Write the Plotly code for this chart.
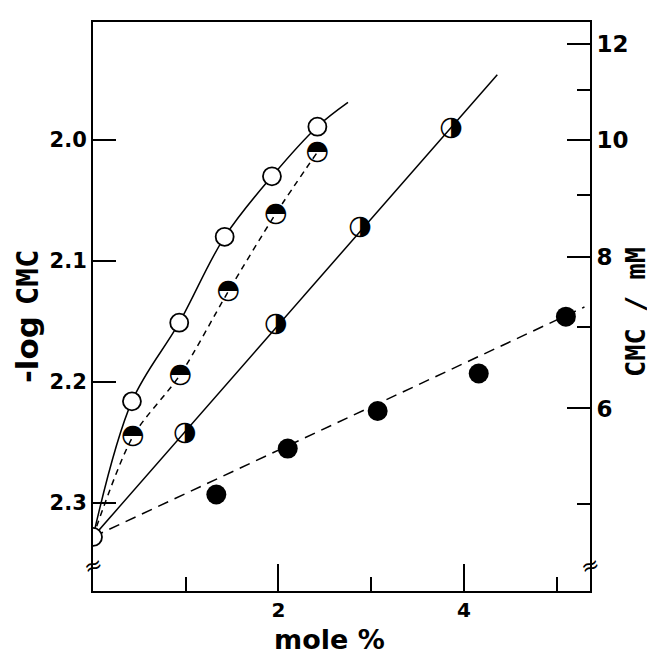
import plotly.graph_objects as go
import math

# ---- data ----
X0, Y0 = 0.0, 2.328          # common intercept (pure surfactant)

# open circles, solid curve
A_X = [0.42, 0.93, 1.42, 1.93, 2.42]
A_Y = [2.216, 2.151, 2.080, 2.030, 1.989]
A_END = (2.75, 1.969)

# upper-half-filled circles, short-dashed curve
B_X = [0.43, 0.94, 1.46, 1.97, 2.42]
B_Y = [2.245, 2.194, 2.125, 2.061, 2.010]

# right-half-filled circles, solid line
C_X = [0.99, 1.97, 2.88, 3.86]
C_Y = [2.242, 2.152, 2.072, 1.990]
C_END = (4.36, 1.946)

# filled circles, long-dashed line
D_X = [1.33, 2.10, 3.07, 4.16, 5.10]
D_Y = [2.293, 2.255, 2.224, 2.193, 2.146]
D_END = (5.30, 2.138)

X_MAJOR = [2, 4]
X_MINOR = [1, 3, 5]
Y_TICKS = [2.0, 2.1, 2.2, 2.3]
Y_TICKTEXT = ["2.0", "2.1", "2.2", "2.3"]
CMC_MAJOR = [6, 8, 10, 12]       # mM
CMC_MINOR = [5, 7, 9, 11]
BREAK_Y = 2.352

X_RANGE = [0, 5.36]
Y_RANGE = [2.3727, 1.9025]


def neglog(c_mM):
    return -math.log10(c_mM / 1000.0)


fig = go.Figure()

line_style = dict(color="black", width=1.5)

# lines
fig.add_trace(go.Scatter(x=[X0] + A_X + [A_END[0]], y=[Y0] + A_Y + [A_END[1]],
                         mode="lines", line=dict(**line_style, shape="spline", smoothing=1.0),
                         hoverinfo="skip"))
fig.add_trace(go.Scatter(x=[X0] + B_X, y=[Y0] + B_Y,
                         mode="lines", line=dict(**line_style, dash="6px,5px", shape="spline", smoothing=0.8),
                         hoverinfo="skip"))
fig.add_trace(go.Scatter(x=[X0, C_END[0]], y=[Y0, C_END[1]],
                         mode="lines", line=line_style, hoverinfo="skip"))
fig.add_trace(go.Scatter(x=[X0, D_END[0]], y=[Y0, D_END[1]],
                         mode="lines", line=dict(**line_style, dash="11px,7px"),
                         hoverinfo="skip"))

# markers
fig.add_trace(go.Scatter(x=[X0] + A_X, y=[Y0] + A_Y, mode="markers",
                         marker=dict(symbol="circle", size=18, color="white",
                                     line=dict(color="black", width=1.8))))
fig.add_trace(go.Scatter(x=D_X, y=D_Y, mode="markers",
                         marker=dict(symbol="circle", size=20, color="black",
                                     line=dict(color="black", width=0))))
fig.add_trace(go.Scatter(x=B_X, y=B_Y, mode="text", text=["◓"] * len(B_X),
                         textposition="middle center",
                         textfont=dict(family="DejaVu Sans", size=27, color="black")))
fig.add_trace(go.Scatter(x=C_X, y=C_Y, mode="text", text=["◑"] * len(C_X),
                         textposition="middle center",
                         textfont=dict(family="DejaVu Sans", size=27, color="black")))

# invisible trace to activate the right axis
fig.add_trace(go.Scatter(x=[X0], y=[Y0], yaxis="y2", mode="markers",
                         marker=dict(opacity=0), hoverinfo="skip"))

tick_font = dict(family="DejaVu Sans", size=21, color="black", weight="bold")

# the page body adds an 8 px offset, so the figure is 647 px and margins are shifted
fig.update_layout(
    width=647, height=647,
    margin=dict(l=85, r=65, t=14, b=64, autoexpand=False),
    paper_bgcolor="white", plot_bgcolor="white",
    showlegend=False,
    xaxis=dict(range=X_RANGE, showgrid=False, zeroline=False, automargin=False,
               showline=True, linecolor="black", linewidth=2, mirror=True,
               tickmode="array", tickvals=X_MAJOR, ticktext=[str(v) for v in X_MAJOR],
               ticks="inside", ticklen=27, tickwidth=2, tickcolor="black",
               minor=dict(tickmode="array", tickvals=X_MINOR, ticks="inside",
                          ticklen=14, tickwidth=2, tickcolor="black"),
               tickfont=dict(family="DejaVu Sans", size=20, color="black", weight="bold")),
    yaxis=dict(range=Y_RANGE, showgrid=False, zeroline=False, automargin=False,
               showline=True, linecolor="black", linewidth=2,
               tickmode="array", tickvals=Y_TICKS, ticktext=Y_TICKTEXT,
               ticks="inside", ticklen=23, tickwidth=2, tickcolor="black",
               tickfont=tick_font),
    yaxis2=dict(range=Y_RANGE, overlaying="y", side="right", showgrid=False, zeroline=False,
                automargin=False,
                showline=True, linecolor="black", linewidth=2,
                tickmode="array", tickvals=[neglog(c) for c in CMC_MAJOR],
                ticktext=[str(c) for c in CMC_MAJOR],
                ticks="inside", ticklen=23, tickwidth=2, tickcolor="black",
                minor=dict(tickmode="array", tickvals=[neglog(c) for c in CMC_MINOR],
                           ticks="inside", ticklen=13, tickwidth=2, tickcolor="black"),
                tickfont=dict(family="DejaVu Sans", size=23, color="black", weight="bold")),
    annotations=[
        dict(x=0.475, y=-0.085, xref="paper", yref="paper", text="<b>mole %</b>",
             showarrow=False, xanchor="center", yanchor="middle",
             font=dict(family="DejaVu Sans", size=27, color="black")),
        dict(x=-0.133, y=0.483, xref="paper", yref="paper",
             text="<b>-log <span style=\"font-family:'DejaVu Sans Mono'\">CMC</span></b>",
             showarrow=False, textangle=-90, xanchor="center", yanchor="middle",
             font=dict(family="DejaVu Sans", size=31, color="black")),
        dict(x=1.090, y=0.49, xref="paper", yref="paper", text="<b>CMC / mM</b>",
             showarrow=False, textangle=-90, xanchor="center", yanchor="middle",
             font=dict(family="DejaVu Sans Mono", size=27, color="black")),
        dict(x=X_RANGE[0], y=BREAK_Y, xref="x", yref="y", text="≈", showarrow=False,
             textangle=-20, font=dict(family="DejaVu Sans", size=22, color="black")),
        dict(x=X_RANGE[1], y=BREAK_Y, xref="x", yref="y", text="≈", showarrow=False,
             textangle=-20, font=dict(family="DejaVu Sans", size=22, color="black")),
    ],
)

fig.write_html("out.html")
